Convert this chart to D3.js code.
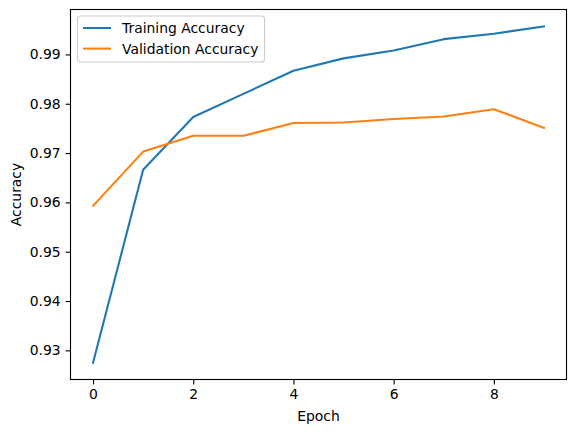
<!DOCTYPE html>
<html><head><meta charset="utf-8">
<script src="https://cdn.jsdelivr.net/npm/d3@7"></script>
<style>body{margin:0;background:#fff}svg{display:block;font-family:"DejaVu Sans",sans-serif}</style>
</head><body>
<script>
const epochs = [0,1,2,3,4,5,6,7,8,9];
const trainingAcc = [0.9275,0.9666,0.9773,0.9820,0.9867,0.9892,0.9908,0.9931,0.9942,0.9957];
const validationAcc = [0.9593,0.9703,0.9735,0.9735,0.9761,0.9762,0.9769,0.9774,0.9789,0.9751];
const xTicks = [0,2,4,6,8];
const yTicks = [0.93,0.94,0.95,0.96,0.97,0.98,0.99];
const seriesNames = ["Training Accuracy","Validation Accuracy"];
const colors = ["#1f77b4","#ff7f0e"];

const W=576,H=432;
const L=70.5,R=566.5,T=9.5,B=379.5;
const svg=d3.select("body").append("svg").attr("width",W).attr("height",H);
const all=trainingAcc.concat(validationAcc);
const ymin=d3.min(all), ymax=d3.max(all), yp=(ymax-ymin)*0.05;
const x=d3.scaleLinear().domain([-0.45,9.45]).range([L,R]);
const y=d3.scaleLinear().domain([ymin-yp,ymax+yp]).range([B,T]);

const gx=svg.append("g").attr("transform",`translate(0,${B})`)
 .call(d3.axisBottom(x).tickValues(xTicks).tickFormat(d3.format("d")).tickSize(4.9).tickPadding(4.9));
const gy=svg.append("g").attr("transform",`translate(${L},0)`)
 .call(d3.axisLeft(y).tickValues(yTicks).tickFormat(d3.format(".2f")).tickSize(4.9).tickPadding(4.9));
[gx,gy].forEach(g=>{g.select(".domain").remove();
 g.selectAll("text").attr("font-size","13.9px").attr("font-family","DejaVu Sans").attr("fill","#000");
 g.selectAll("line").attr("stroke","#000").attr("stroke-width",1.1);});

const line=d3.line().x((d,i)=>x(epochs[i])).y(d=>y(d));
[trainingAcc,validationAcc].forEach((s,k)=>{
 svg.append("path").datum(s).attr("d",line).attr("fill","none").attr("stroke",colors[k])
  .attr("stroke-width",2.08).attr("stroke-linejoin","round").attr("stroke-linecap","square");
});

svg.append("rect").attr("x",L).attr("y",T).attr("width",R-L).attr("height",B-T)
 .attr("fill","none").attr("stroke","#000").attr("stroke-width",1.1);

svg.append("text").attr("x",(L+R)/2).attr("y",421).attr("text-anchor","middle")
 .attr("font-size","13.9px").text("Epoch");
svg.append("text").attr("transform",`translate(21,${(T+B)/2}) rotate(-90)`).attr("text-anchor","middle")
 .attr("font-size","13.9px").text("Accuracy");

const lg=svg.append("g");
lg.append("rect").attr("x",77.5).attr("y",16).attr("width",187).attr("height",46).attr("rx",3)
 .attr("fill","#fff").attr("fill-opacity",0.8).attr("stroke","#cccccc").attr("stroke-width",1.1);
seriesNames.forEach((n,k)=>{
 const yy=28+k*20.6;
 lg.append("line").attr("x1",83).attr("x2",111).attr("y1",yy).attr("y2",yy)
  .attr("stroke",colors[k]).attr("stroke-width",2.08);
 lg.append("text").attr("x",122).attr("y",yy+5).attr("font-size","13.9px").text(n);
});
</script>
</body></html>
